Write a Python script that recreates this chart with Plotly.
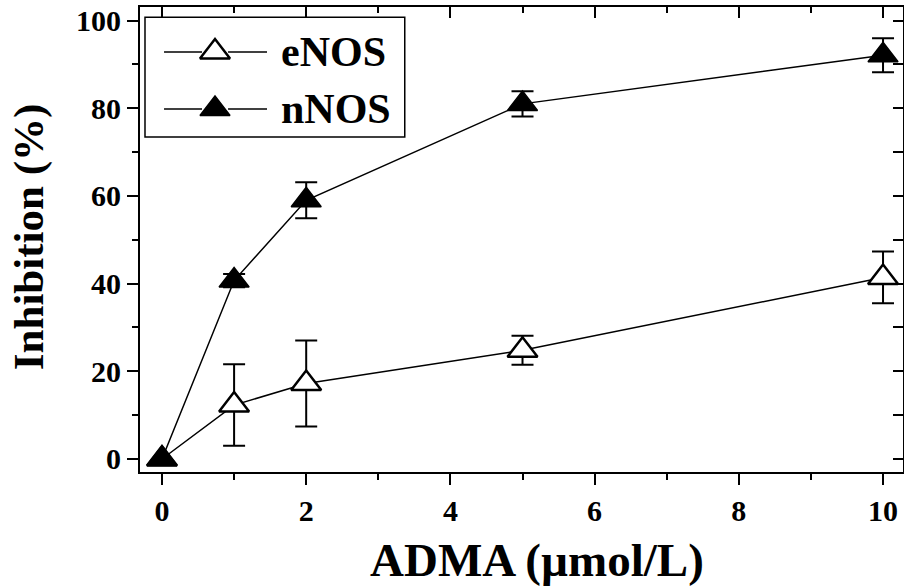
import plotly.graph_objects as go

# ---- data ----
dose = [0, 1, 2, 5, 10]
enos = [0, 12.3, 17.2, 24.8, 41.4]
enos_err = [0, 9.3, 9.8, 3.3, 5.9]
nnos = [0, 40.7, 59.0, 81.0, 92.1]
nnos_err = [0, 1.5, 4.1, 2.9, 3.9]

series_names = ["eNOS", "nNOS"]
x_title = "ADMA (\u00b5mol/L)"
y_title = "Inhibition (%)"

FONT = "Liberation Serif"
MSIZE = 26

fig = go.Figure()

fig.add_trace(go.Scatter(
    x=dose, y=enos, mode="lines+markers", name=series_names[0],
    line=dict(color="black", width=1.5),
    marker=dict(symbol="triangle-up", size=MSIZE, color="white",
                line=dict(color="black", width=2.5)),
    error_y=dict(type="data", array=enos_err, visible=True,
                 color="black", thickness=2, width=11),
    showlegend=False, cliponaxis=False,
))
fig.add_trace(go.Scatter(
    x=dose, y=nnos, mode="lines+markers", name=series_names[1],
    line=dict(color="black", width=1.5),
    marker=dict(symbol="triangle-up", size=MSIZE, color="black",
                line=dict(color="black", width=1.5)),
    error_y=dict(type="data", array=nnos_err, visible=True,
                 color="black", thickness=2, width=11),
    showlegend=False, cliponaxis=False,
))

# invisible trace to activate the mirror axes (top / right, inside ticks)
fig.add_trace(go.Scatter(
    x=dose, y=nnos, xaxis="x2", yaxis="y2", mode="markers",
    marker=dict(opacity=0), hoverinfo="skip", showlegend=False,
))

# ---- custom legend (paper-like axes x3/y3) ----
leg_rows_y = [0.903, 0.7806]
leg_marker_x = 0.0983
for i, (nm, fill, lw) in enumerate([(series_names[0], "white", 2.5),
                                    (series_names[1], "black", 1.5)]):
    fig.add_trace(go.Scatter(
        x=[leg_marker_x], y=[leg_rows_y[i]], xaxis="x3", yaxis="y3",
        mode="markers",
        marker=dict(symbol="triangle-up", size=MSIZE, color=fill,
                    line=dict(color="black", width=lw)),
        hoverinfo="skip", showlegend=False, cliponaxis=False,
    ))
    fig.add_shape(type="line", xref="paper", yref="paper",
                  x0=0.0315, x1=0.0813, y0=leg_rows_y[i], y1=leg_rows_y[i],
                  line=dict(color="black", width=1.5))
    fig.add_shape(type="line", xref="paper", yref="paper",
                  x0=0.1154, x1=0.1665, y0=leg_rows_y[i], y1=leg_rows_y[i],
                  line=dict(color="black", width=1.5))
    fig.add_annotation(text=nm, xref="paper", yref="paper",
                       x=0.182, y=leg_rows_y[i], xanchor="left", yanchor="middle",
                       showarrow=False,
                       font=dict(family=FONT, size=42, color="black", weight="bold"))

fig.add_shape(type="rect", xref="paper", yref="paper",
              x0=0.00655, x1=0.347, y0=0.7204, y1=0.978,
              line=dict(color="black", width=1.5), fillcolor="rgba(0,0,0,0)")

# axis titles
fig.add_annotation(text=x_title, xref="paper", yref="paper",
                   x=0.52, y=-0.19, xanchor="center", yanchor="middle",
                   showarrow=False,
                   font=dict(family=FONT, size=47, color="black", weight="bold"))
fig.add_annotation(text=y_title, xref="paper", yref="paper",
                   x=-0.1455, y=0.505, xanchor="center", yanchor="middle",
                   textangle=-90, showarrow=False,
                   font=dict(family=FONT, size=43, color="black", weight="bold"))

XR = [-0.305, 10.277]
YR = [-2.97, 103.1]
tickfont = dict(family=FONT, size=30, color="black", weight="bold")

fig.update_layout(
    width=904, height=588,
    margin=dict(l=140, r=1, t=7, b=116, pad=0, autoexpand=False),
    paper_bgcolor="white", plot_bgcolor="white",
    showlegend=False,
    xaxis=dict(range=XR, domain=[0, 1], showgrid=False, zeroline=False,
               automargin=False,
               showline=True, linecolor="black", linewidth=2,
               ticks="outside", ticklen=11, tickwidth=2, tickcolor="black",
               tick0=0, dtick=2, tickfont=tickfont,
               minor=dict(ticks="outside", ticklen=6, tickwidth=2,
                          tickcolor="black", dtick=1, tick0=0)),
    yaxis=dict(range=YR, domain=[0, 1], showgrid=False, zeroline=False,
               automargin=False,
               showline=True, linecolor="black", linewidth=2,
               ticks="outside", ticklen=11, tickwidth=2, tickcolor="black",
               tick0=0, dtick=20, tickfont=tickfont,
               minor=dict(ticks="outside", ticklen=6, tickwidth=2,
                          tickcolor="black", dtick=10, tick0=0)),
    xaxis2=dict(range=XR, overlaying="x", side="top", anchor="y2",
                automargin=False,
                showgrid=False, zeroline=False, showticklabels=False,
                showline=True, linecolor="black", linewidth=2,
                ticks="inside", ticklen=11, tickwidth=2, tickcolor="black",
                tick0=0, dtick=2,
                minor=dict(ticks="inside", ticklen=6, tickwidth=2,
                           tickcolor="black", dtick=1, tick0=0)),
    yaxis2=dict(range=YR, overlaying="y", side="right", anchor="x2",
                automargin=False,
                showgrid=False, zeroline=False, showticklabels=False,
                showline=True, linecolor="black", linewidth=2,
                ticks="inside", ticklen=10, tickwidth=2, tickcolor="black",
                tick0=0, dtick=20,
                minor=dict(ticks="inside", ticklen=10, tickwidth=2,
                           tickcolor="black", dtick=10, tick0=0)),
    xaxis3=dict(range=[0, 1], domain=[0, 1], overlaying="x", visible=False,
                fixedrange=True, automargin=False),
    yaxis3=dict(range=[0, 1], domain=[0, 1], overlaying="y", visible=False,
                fixedrange=True, automargin=False),
)

fig.write_html(
    "out.html",
    config={"displayModeBar": False},
    post_script="document.body.style.margin='0';"
                "document.body.style.overflow='hidden';"
                "document.documentElement.style.overflow='hidden';",
)
